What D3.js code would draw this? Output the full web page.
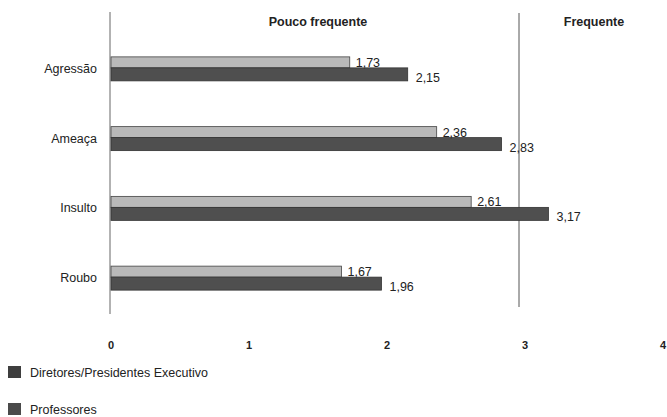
<!DOCTYPE html>
<html>
<head>
<meta charset="utf-8">
<script src="https://cdn.jsdelivr.net/npm/d3@7"></script>
<style>
  body { margin: 0; background: #fff; }
  svg text { font-family: "Liberation Sans Narrow", "Liberation Sans", Arial, sans-serif; fill: #222; }
</style>
</head>
<body>
<div class="chart"></div>
<script>
const categories = ["Agressão", "Ameaça", "Insulto", "Roubo"];
const diretores = [1.73, 2.36, 2.61, 1.67];
const professores = [2.15, 2.83, 3.17, 1.96];
const seriesNames = ["Diretores/Presidentes Executivo", "Professores"];
const ticks = [0, 1, 2, 3, 4];
const zones = [{ label: "Pouco frequente", from: 0, to: 3 }, { label: "Frequente", from: 3, to: 4 }];

const W = 667, H = 417;
const colors = ["#b9b9b9", "#4f4f4f"];

const svg = d3.select(".chart").append("svg")
  .attr("width", W)
  .attr("height", H);

const x = d3.scaleLinear().domain([0, 4]).range([111, 663]);
const y = d3.scaleBand().domain(categories).range([33, 312]);

const fmt = v => d3.format(".2f")(v).replace(".", ",");

// zone headers
svg.selectAll(".zone")
  .data(zones)
  .enter()
  .append("text")
  .attr("x", d => (x(d.from) + x(d.to)) / 2)
  .attr("y", 26)
  .attr("text-anchor", "middle")
  .attr("font-size", 12.5)
  .attr("font-weight", "bold")
  .text(d => d.label);

// vertical lines
svg.append("line")
  .attr("x1", x(0) - 1).attr("x2", x(0) - 1)
  .attr("y1", 12).attr("y2", 314)
  .attr("stroke", "#666").attr("stroke-width", 1);
svg.append("line")
  .attr("x1", x(3) - 6).attr("x2", x(3) - 6)
  .attr("y1", 13).attr("y2", 307)
  .attr("stroke", "#555").attr("stroke-width", 1);

const rows = categories.map((c, i) => ({ cat: c, d: diretores[i], p: professores[i] }));
const mid = c => y(c) + y.bandwidth() / 2;

const g = svg.selectAll(".row")
  .data(rows)
  .enter()
  .append("g");

// light bars (diretores)
g.append("rect")
  .attr("x", x(0))
  .attr("y", d => mid(d.cat) - 11)
  .attr("width", d => x(d.d) - x(0))
  .attr("height", 11)
  .attr("fill", colors[0])
  .attr("stroke", "#444")
  .attr("stroke-width", 0.8);

// dark bars (professores)
g.append("rect")
  .attr("x", x(0))
  .attr("y", d => mid(d.cat))
  .attr("width", d => x(d.p) - x(0))
  .attr("height", 13)
  .attr("fill", colors[1])
  .attr("stroke", "#333")
  .attr("stroke-width", 0.8);

g.append("text")
  .attr("x", d => x(d.d) + 6)
  .attr("y", d => mid(d.cat) - 1)
  .attr("font-size", 12.5)
  .text(d => fmt(d.d));

g.append("text")
  .attr("x", d => x(d.p) + 8)
  .attr("y", d => mid(d.cat) + 14)
  .attr("font-size", 12.5)
  .text(d => fmt(d.p));

// category labels
g.append("text")
  .attr("x", 97)
  .attr("y", d => mid(d.cat) + 5)
  .attr("text-anchor", "end")
  .attr("font-size", 12.5)
  .text(d => d.cat);

// x tick labels
svg.selectAll(".tick")
  .data(ticks)
  .enter()
  .append("text")
  .attr("x", d => x(d))
  .attr("y", 349)
  .attr("text-anchor", "middle")
  .attr("font-size", 11)
  .attr("font-weight", "bold")
  .text(d => d);

// legend
const lg = svg.selectAll(".legend")
  .data(seriesNames)
  .enter()
  .append("g")
  .attr("transform", (d, i) => `translate(8, ${366 + i * 37})`);

lg.append("rect")
  .attr("width", 13)
  .attr("height", 12)
  .attr("fill", (d, i) => i === 0 ? "#3e3e3e" : "#4a4a4a");

lg.append("text")
  .attr("x", 22)
  .attr("y", 10.5)
  .attr("font-size", 12.5)
  .text(d => d);
</script>
</body>
</html>
